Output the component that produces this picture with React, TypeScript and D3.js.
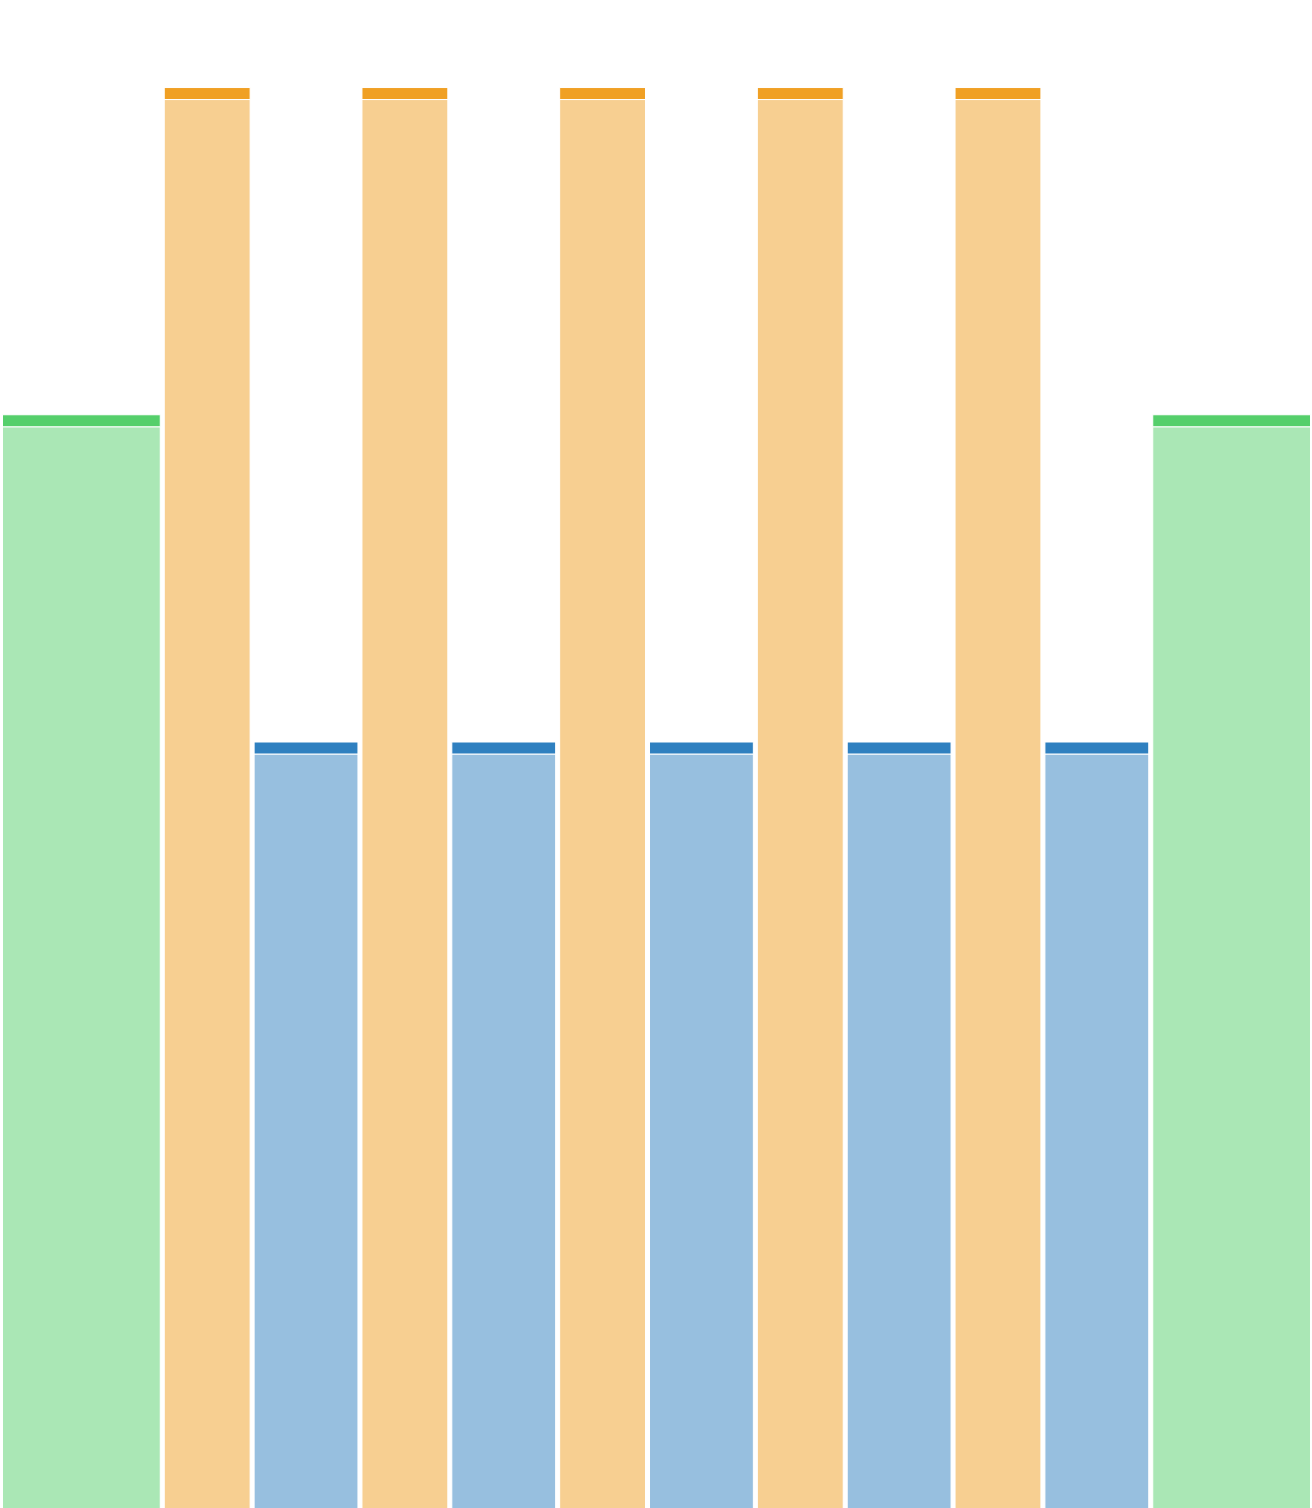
import { useEffect, useRef } from 'react'
import * as d3 from 'd3'

const W = 1312
const H = 1508

// one entry per column, left to right
const columns = ['g1', 'o1', 'b1', 'o2', 'b2', 'o3', 'b3', 'o4', 'b4', 'o5', 'b5', 'g2']
const kinds = ['green', 'orange', 'blue', 'orange', 'blue', 'orange', 'blue', 'orange', 'blue', 'orange', 'blue', 'green']
const widths = [9, 5, 6, 5, 6, 5, 6, 5, 6, 5, 6, 9]
const values = [71.7, 93.4, 50, 93.4, 50, 93.4, 50, 93.4, 50, 93.4, 50, 71.7]

const kindNames = ['green', 'orange', 'blue']
const kindColors = ['#55cf6b', '#f0a024', '#2f80c0']

const CAP = 12 // px height of the dark strip on top of each column
const PAD = 2 // px inset on each side of a column

export default function App() {
  const svgRef = useRef<SVGSVGElement>(null)

  useEffect(() => {
    const svg = d3.select(svgRef.current)
    svg.selectAll('*').remove()

    const total = d3.sum(widths)
    const starts = d3.cumsum([0, ...widths.slice(0, -1)])
    const x = d3.scaleLinear().domain([0, total]).range([0.5, W + 0.5])
    const y = d3.scaleLinear().domain([0, 100]).range([H, 0])
    const color = d3.scaleOrdinal<string, string>().domain(kindNames).range(kindColors)

    const data = columns.map((id, i) => ({
      id,
      kind: kinds[i],
      x0: x(starts[i]) + PAD,
      x1: x(starts[i] + widths[i]) - PAD,
      v: values[i],
    }))

    const g = svg.append('g')

    // light body
    g.selectAll('rect.body')
      .data(data)
      .join('rect')
      .attr('class', 'body')
      .attr('x', (d) => d.x0)
      .attr('width', (d) => d.x1 - d.x0)
      .attr('y', (d) => y(d.v))
      .attr('height', (d) => H + 10 - y(d.v))
      .attr('fill', (d) => color(d.kind))
      .attr('fill-opacity', 0.5)
      .attr('stroke', '#fff')
      .attr('stroke-width', 1)

    // dark cap
    g.selectAll('rect.cap')
      .data(data)
      .join('rect')
      .attr('class', 'cap')
      .attr('x', (d) => d.x0)
      .attr('width', (d) => d.x1 - d.x0)
      .attr('y', (d) => y(d.v) - CAP)
      .attr('height', CAP)
      .attr('fill', (d) => color(d.kind))
      .attr('stroke', '#fff')
      .attr('stroke-width', 1)
  }, [])

  return (
    <svg
      ref={svgRef}
      width={W}
      height={H}
      style={{ position: 'absolute', left: 0, top: 0, display: 'block', background: '#fff' }}
    />
  )
}
